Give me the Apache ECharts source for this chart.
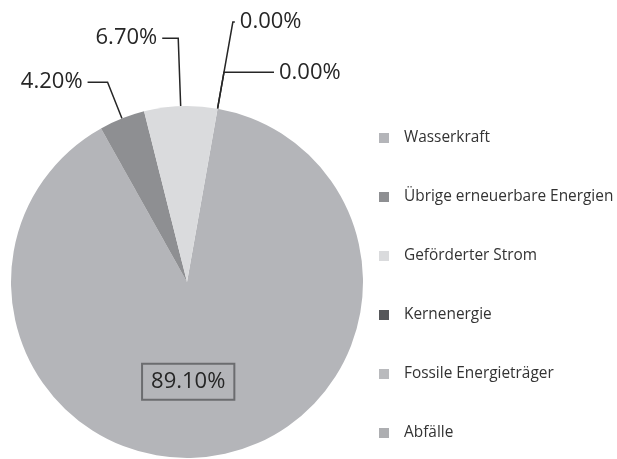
<!DOCTYPE html>
<html>
<head>
<meta charset="utf-8">
<script src="https://cdn.jsdelivr.net/npm/echarts@6/dist/echarts.min.js"></script>
<style>html,body{margin:0;padding:0;background:#fff;}#c{width:617px;height:459px;}</style>
</head>
<body>
<div id="c"></div>
<script>
const categories = ['Wasserkraft', 'Übrige erneuerbare Energien', 'Geförderter Strom', 'Kernenergie', 'Fossile Energieträger', 'Abfälle'];
const shares = [89.1, 4.2, 6.7, 0.0, 0.0, 0.0];
const colors = ['#b4b5b9', '#8e8f92', '#dadbdd', '#56575a', '#b9babd', '#adaeb1'];
const showLabel = [true, true, true, true, true, false];
// label line lengths (first segment, horizontal segment) per category
const lineLen1 = [0, 39, 68, 88, 37, 0];
const lineLen2 = [0, 20, 16, 2, 50, 0];

const chart = echarts.init(document.getElementById('c'));
const data = categories.map((name, i) => {
  const item = { name: name, value: shares[i], itemStyle: { color: colors[i] } };
  if (i === 0) {
    item.label = {
      position: 'inside',
      fontSize: 22,
      color: '#262626',
      borderColor: '#6b6c6f',
      borderWidth: 2,
      padding: [8, 9, 6, 9],
      offset: [-14, 10]
    };
    item.labelLine = { show: false };
  } else if (!showLabel[i]) {
    item.label = { show: false };
    item.labelLine = { show: false };
  } else {
    item.labelLine = { length: lineLen1[i], length2: lineLen2[i] };
  }
  return item;
});

chart.setOption({
  animation: false,
  textStyle: { fontFamily: 'Open Sans' },
  legend: {
    orient: 'vertical',
    left: 374,
    top: 123,
    icon: 'rect',
    itemWidth: 10,
    itemHeight: 10,
    itemGap: 39,
    selectedMode: false,
    textStyle: { fontSize: 15.4, color: '#333', lineHeight: 20, padding: [0, 0, 0, 10], fontFamily: 'Open Sans' },
    data: categories
  },
  series: [{
    type: 'pie',
    center: [187, 282],
    radius: 176,
    startAngle: 80,
    clockwise: true,
    avoidLabelOverlap: false,
    minShowLabelAngle: 0,
    label: {
      show: true,
      formatter: p => p.value.toFixed(2) + '%',
      fontSize: 22,
      color: '#262626',
      fontFamily: 'Open Sans'
    },
    labelLine: {
      show: true,
      length: 30,
      length2: 12,
      lineStyle: { color: '#262626', width: 1.5 }
    },
    emphasis: { disabled: true },
    data: data
  }]
});
</script>
</body>
</html>
